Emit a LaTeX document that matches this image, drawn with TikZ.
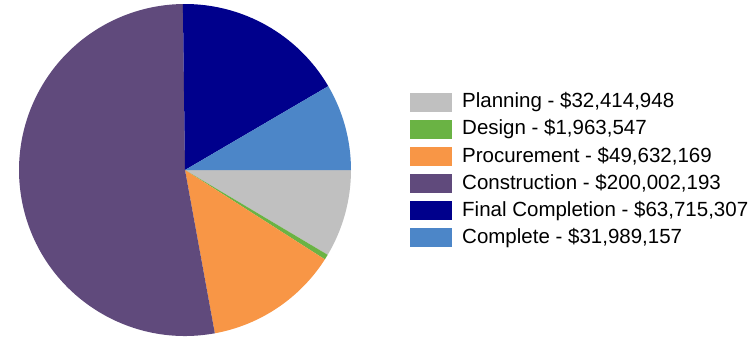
\documentclass[tikz,border=0pt]{standalone}
\usepackage{fontspec}
\setmainfont{Liberation Sans}
\definecolor{cplan}{RGB}{192,192,192}
\definecolor{cdesign}{RGB}{106,179,68}
\definecolor{cproc}{RGB}{248,150,70}
\definecolor{cconst}{RGB}{96,74,124}
\definecolor{cfinal}{RGB}{0,0,140}
\definecolor{ccomp}{RGB}{76,134,200}
\begin{document}
\begin{tikzpicture}[x=1pt,y=1pt,
  swatch/.style={minimum width=42pt,minimum height=19pt,inner sep=0pt,draw=none},
  legtext/.style={anchor=west,inner sep=0pt,font=\fontsize{20.5}{21}\selectfont}]
\useasboundingbox (0,0) rectangle (756,341);
\coordinate (c) at (185,171);
\def\r{166}
\newcommand\slice[3]{\fill[#3] (c) -- ++(#1:\r) arc[start angle=#1,end angle=#2,radius=\r] -- cycle;}
\slice{0}{-30.73}{cplan}
\slice{-30.73}{-32.59}{cdesign}
\slice{-32.59}{-79.65}{cproc}
\slice{-79.65}{-269.27}{cconst}
\slice{-269.27}{-329.67}{cfinal}
\slice{-329.67}{-360}{ccomp}
% legend
\foreach \i/\col/\txt in {0/cplan/{Planning - \$32,414,948},
  1/cdesign/{Design - \$1,963,547},
  2/cproc/{Procurement - \$49,632,169},
  3/cconst/{Construction - \$200,002,193},
  4/cfinal/{Final Completion - \$63,715,307},
  5/ccomp/{Complete - \$31,989,157}}{
  \node[swatch,fill=\col] (s\i) at (431,{341-102.3-27.1*\i}) {};
  \node[legtext] (t\i) at (462,{341-102.3-27.1*\i}) {\txt};
}
\end{tikzpicture}
\end{document}
